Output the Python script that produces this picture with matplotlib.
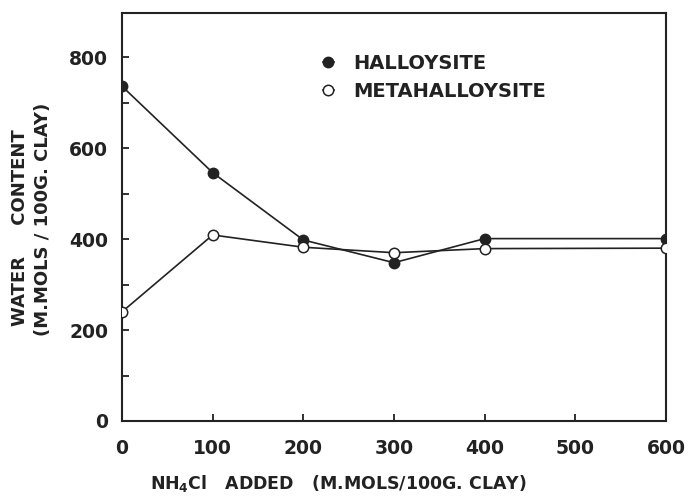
import matplotlib
matplotlib.use("Agg")
import matplotlib.pyplot as plt

x_vals = [0, 100, 200, 300, 400, 600]
halloysite = [736, 546, 398, 348, 401, 401]
metahalloysite = [240, 409, 382, 370, 379, 380]
xticks = [0, 100, 200, 300, 400, 500, 600]
yticks = [0, 200, 400, 600, 800]
yminor = [100, 300, 500, 700]

plt.rcParams['font.family'] = ['DejaVu Sans']
plt.rcParams['font.weight'] = 'bold'

fig = plt.figure(figsize=(6.93, 4.97), dpi=100)
ax = fig.add_axes([122/693, 1-421/497, (666-122)/693, (421-13)/497])

ax.plot(x_vals, halloysite, color='#222222', lw=1.2, marker='o', ms=7.5,
        mfc='#222222', mec='#222222', label='HALLOYSITE', zorder=3)
ax.plot(x_vals, metahalloysite, color='#222222', lw=1.2, marker='o', ms=7.5,
        mfc='white', mec='#222222', mew=1.1, label='METAHALLOYSITE', zorder=3)

ax.set_xlim(0, 600)
ax.set_ylim(0, 897)
ax.set_xticks(xticks)
ax.set_yticks(yticks)
ax.set_yticks(yminor, minor=True)
ax.tick_params(axis='both', which='both', direction='in', length=5, width=1.3,
               colors='#222222', labelsize=13.5)
ax.tick_params(axis='x', pad=13)
ax.tick_params(axis='y', pad=10)
ax.tick_params(axis='y', which='minor', length=5)
for lab in ax.get_xticklabels() + ax.get_yticklabels():
    lab.set_fontweight('bold')
    lab.set_color('#222222')
for s in ax.spines.values():
    s.set_linewidth(1.5)
    s.set_color('#222222')

leg = ax.legend(loc='upper left', bbox_to_anchor=(0.355, 0.918), frameon=False,
                fontsize=14, handlelength=0.55, handletextpad=1.0, labelspacing=0.45,
                borderaxespad=0)
for t in leg.get_texts():
    t.set_color('#222222')
    t.set_fontweight('bold')

fig.text(20/693, 1-228/497, 'WATER     CONTENT', rotation=90, ha='center', va='center',
         fontsize=13, fontweight='bold', color='#222222')
fig.text(43/693, 1-219/497, '(M.MOLS / 100G. CLAY)', rotation=90, ha='center', va='center',
         fontsize=13, fontweight='bold', color='#222222')
fig.text(338/693, 1-483/497, r'NH$_\mathregular{4}$Cl   ADDED   (M.MOLS/100G. CLAY)',
         ha='center', va='center', fontsize=12.5, fontweight='bold', color='#222222')

fig.savefig('out.png', dpi=100, facecolor='white')
